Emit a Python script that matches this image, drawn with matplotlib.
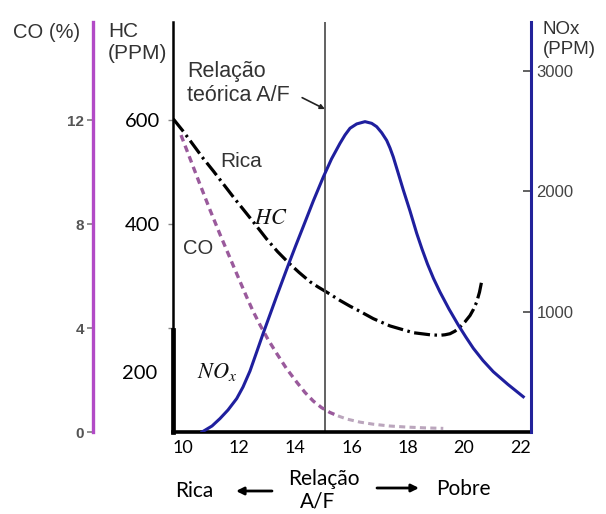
import matplotlib
matplotlib.use('Agg')
from matplotlib import pyplot as plt

plt.rcParams['font.family'] = ['Liberation Sans', 'DejaVu Sans']
plt.rcParams['mathtext.fontset'] = 'stix'

# HC (ppm) vs A/F ratio
hc_af = [9.655, 10.011, 10.367, 10.722, 11.078, 11.434, 11.79, 12.146, 12.502, 12.979,
         13.363, 13.747, 14.128, 14.52, 14.804, 15.114, 15.587, 15.943, 16.299, 16.772,
         17.367, 18.196, 18.79, 19.146, 19.324, 19.502, 19.68, 19.858, 20.036, 20.214,
         20.338, 20.452, 20.552, 20.63]
hc_ppm = [602, 578, 552, 526, 502, 477, 452, 428, 404, 371,
          347, 326, 307, 289, 279, 269, 253, 242, 232, 218,
          204, 191, 187, 186, 187, 189, 194, 202, 212, 224,
          236, 250, 269, 290]

# CO (%) vs A/F ratio
co_af = [9.929, 10.249, 10.605, 10.961, 11.317, 11.733, 11.993, 12.267, 12.491, 12.74,
         13.025, 13.335, 13.683, 14.046, 14.342, 14.637, 14.929, 15.231, 15.516, 15.826,
         16.299, 16.772, 17.367, 17.961, 18.612, 19.263]
co_pct = [11.42, 10.52, 9.52, 8.54, 7.6, 6.54, 5.88, 5.19, 4.65, 4.12,
          3.56, 3.02, 2.44, 1.92, 1.52, 1.19, 0.94, 0.75, 0.62, 0.5,
          0.38, 0.3, 0.23, 0.19, 0.16, 0.14]

# NOx (ppm) vs A/F ratio
nox_af = [10.676, 11.032, 11.317, 11.601, 11.911, 12.135, 12.384, 12.616, 12.858, 13.096,
          13.335, 13.541, 13.747, 14.014, 14.281, 14.637, 14.993, 15.285, 15.587, 15.765,
          15.943, 16.181, 16.477, 16.715, 16.893, 17.071, 17.249, 17.367, 17.484, 17.651,
          17.84, 18.078, 18.317, 18.505, 18.701, 18.915, 19.146, 19.466, 19.797, 20.064,
          20.331, 20.676, 21.043, 21.566, 22.11]
nox_ppm = [0, 50, 112, 183, 278, 374, 507, 661, 823, 976,
           1130, 1259, 1388, 1550, 1708, 1920, 2119, 2269, 2399, 2468,
           2524, 2560, 2579, 2565, 2537, 2487, 2423, 2360, 2285, 2157,
           2011, 1837, 1651, 1521, 1396, 1276, 1163, 1022, 889, 790,
           696, 594, 501, 395, 293]

af_theoretical = 15.05

x_ticks = [10, 12, 14, 16, 18, 20, 22]
hc_ticks = [200, 400, 600]
hc_labels = ['', '400', '600']
co_ticks = [0, 4, 8, 12]
nox_ticks = [1000, 2000, 3000]

fig = plt.figure(figsize=(6.06, 5.14), dpi=100)
ax = fig.add_axes([0.2855, 0.1595, 0.5907, 0.7977])
ax_co = ax.twinx()
ax_nox = ax.twinx()

# --- main (HC) axis
ax.plot(hc_af, hc_ppm, color='black', lw=2.3, linestyle=(0, (5, 1.4, 0.8, 1.4)))
ax.axvline(af_theoretical, color='#555555', lw=1.3)
ax.set_xlim(9.644, 22.384)
ax.set_ylim(0, 788.5)
for s in ['top', 'right']:
    ax.spines[s].set_visible(False)
ax.spines['left'].set_linewidth(1.8)
ax.spines['bottom'].set_linewidth(2.6)
ax.axvline(9.644, ymax=0.249, color='black', lw=3.4, clip_on=False)
ax.set_xticks(x_ticks)
ax.set_xticklabels([str(t) for t in x_ticks], fontfamily='Lato', fontsize=13)
ax.tick_params(axis='x', length=0, pad=6)
ax.set_yticks(hc_ticks)
ax.set_yticklabels(hc_labels, fontfamily='Lato', fontsize=14.5)
ax.tick_params(axis='y', length=3.6, width=1, color='#888888', pad=5.5)
ax.annotate('200', xy=(0, 113), xycoords=('axes fraction', 'data'), xytext=(-11, 0),
            textcoords='offset points', ha='right', va='center',
            fontfamily='Lato', fontsize=14.5)

# --- CO axis (left, purple)
ax_co.plot(co_af[:19], co_pct[:19], color='#9a5a9c', lw=2.4, linestyle=(0, (2, 1.4)))
ax_co.plot(co_af[18:], co_pct[18:], color='#bba6bd', lw=2.2, linestyle=(0, (2, 1.4)))
ax_co.set_ylim(0, 15.77)
for s in ['top', 'right', 'bottom']:
    ax_co.spines[s].set_visible(False)
ax_co.spines['left'].set_visible(True)
ax_co.spines['left'].set_position(('axes', -0.2235))
ax_co.spines['left'].set_color('#b24ac6')
ax_co.spines['left'].set_linewidth(2.4)
ax_co.yaxis.tick_left()
ax_co.set_yticks(co_ticks)
ax_co.set_yticklabels([str(t) for t in co_ticks], fontsize=11, fontweight='bold', color='#555555')
ax_co.tick_params(axis='y', length=4.5, width=1.3, color='#888888', pad=2)

# --- NOx axis (right, blue)
ax_nox.plot(nox_af, nox_ppm, color='#1f1f9e', lw=2.2)
ax_nox.set_ylim(0, 3407)
for s in ['top', 'left', 'bottom']:
    ax_nox.spines[s].set_visible(False)
ax_nox.spines['right'].set_color('#22229a')
ax_nox.spines['right'].set_linewidth(2.2)
ax_nox.set_yticks(nox_ticks)
ax_nox.set_yticklabels([str(t) for t in nox_ticks], fontsize=12, color='#444444')
ax_nox.tick_params(axis='y', direction='in', length=5.5, width=1.3, color='#555555', pad=4)

# --- labels inside the plot
ax.text(12.06, 521, 'Rica', fontsize=15, color='#333333', ha='center', va='center')
ax.text(13.13, 411, '$HC$', fontsize=16, color='#111111', ha='center', va='center')
ax.text(10.53, 352, 'CO', fontsize=14.5, color='#333333', ha='center', va='center')
ax.text(11.21, 115, '$NO_x$', fontsize=16, color='#111111', ha='center', va='center')
ax.text(10.14, 713, 'Relação\nteórica A/F', fontsize=15.5, color='#333333',
        ha='left', va='top', linespacing=1.15)
ax.annotate('', xy=(af_theoretical, 621), xytext=(14.24, 643),
            arrowprops=dict(arrowstyle='-|>', color='#222222', lw=1.2,
                            mutation_scale=7, shrinkA=0, shrinkB=0))

# --- axis titles
fig.text(13 / 606, 1 - 32 / 514, 'CO (%)', fontsize=14.5, color='#333333', ha='left', va='center')
fig.text(108 / 606, 1 - 22 / 514, 'HC\n(PPM)', fontsize=15, color='#333333', ha='left', va='top')
fig.text(543 / 606, 1 - 21 / 514, 'NOx\n(PPM)', fontsize=13.5, color='#333333', ha='left', va='top')

# --- bottom A/F direction labels
fig.text(194 / 606, 1 - 491 / 514, 'Rica', fontfamily='Lato', fontsize=15, ha='center', va='center')
fig.text(324 / 606, 1 - 479 / 514, 'Relação', fontfamily='Lato', fontsize=15, ha='center', va='center')
fig.text(318 / 606, 1 - 501 / 514, 'A/F', fontfamily='Lato', fontsize=15, ha='center', va='center')
fig.text(463 / 606, 1 - 489 / 514, 'Pobre', fontfamily='Lato', fontsize=15, ha='center', va='center')
ax.annotate('', xy=(236 / 606, 1 - 491 / 514), xytext=(272 / 606, 1 - 491 / 514),
            xycoords='figure fraction', annotation_clip=False,
            arrowprops=dict(arrowstyle='-|>', color='black', lw=2, mutation_scale=11,
                            shrinkA=0, shrinkB=0))
ax.annotate('', xy=(419 / 606, 1 - 488 / 514), xytext=(377 / 606, 1 - 488 / 514),
            xycoords='figure fraction', annotation_clip=False,
            arrowprops=dict(arrowstyle='-|>', color='black', lw=2, mutation_scale=11,
                            shrinkA=0, shrinkB=0))

fig.savefig('out.png', dpi=100)
